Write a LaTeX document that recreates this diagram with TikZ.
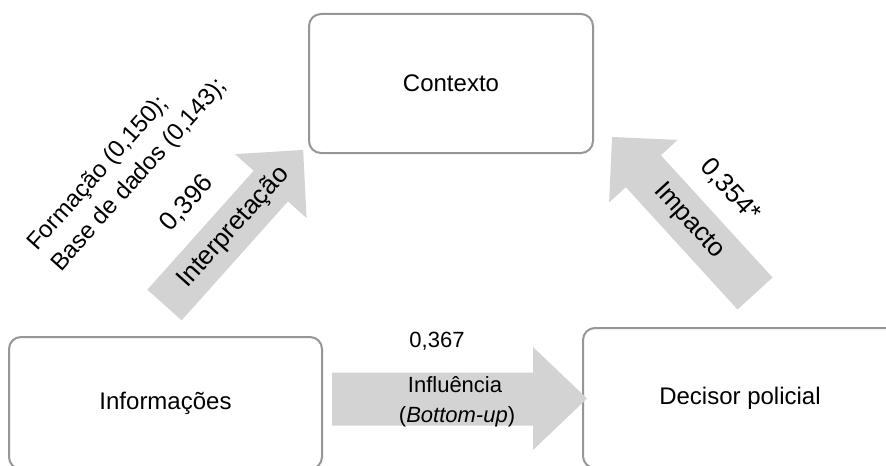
\documentclass[tikz,border=0pt]{standalone}
\usepackage{fontspec}
\setmainfont{Liberation Sans}
\definecolor{boxline}{RGB}{150,150,150}
\definecolor{arrowfill}{RGB}{211,211,211}
\begin{document}
\begin{tikzpicture}[x=0.5pt,y=0.5pt,
  every node/.style={font=\fontsize{12}{14}\selectfont, inner sep=0pt},
  stage/.style={draw=boxline, line width=1pt, rounded corners=6pt,
    rectangle, fill=white},
  blockarrow/.style={fill=arrowfill, draw=none},
  flowtext/.style={font=\fontsize{11}{13}\selectfont},
  slanttext/.style={font=\fontsize{13}{15}\selectfont}]
\useasboundingbox (0,0) rectangle (886,-465);
\clip (0,0) rectangle (886,-465);

% stages
\node[stage, minimum width=142pt, minimum height=69.5pt] (ctx) at (451,-83.5) {Contexto};
\node[stage, minimum width=156.5pt, minimum height=66pt] (info) at (165.5,-403) {Informações};
\node[stage, minimum width=157pt, minimum height=70pt] (dec) at (740,-398) {Decisor policial};

% Informações -> Decisor policial
\fill[blockarrow] (332,-372.5) -- (533,-372.5) -- (533,-347) -- (587,-398.5)
  -- (533,-450) -- (533,-425.5) -- (332,-425.5) -- cycle;
\node[flowtext] (w367) at (437,-341) {0,367};
\node[flowtext] (infl) at (455,-385) {Influência};
\node[flowtext] (bup) at (457,-417) {(\textit{Bottom-up})};

% Informações -> Contexto
\begin{scope}[shift={(164.5,-305)}, rotate=48.2]
  \fill[blockarrow] (0,23) -- (159.5,23) -- (159.5,48) -- (208,0)
    -- (159.5,-48) -- (159.5,-23) -- (0,-23) -- cycle;
  \node[slanttext, rotate=48.2] (interp) at (104,0) {Interpretação};
  \node[slanttext, rotate=48.2] (w396) at (91,51) {0,396};
  \node[rotate=48.2, align=left, font=\fontsize{12}{16}\selectfont] (covars) at (80,121)
    {Formação (0,150);\\Base de dados (0,143);};
\end{scope}

% Decisor policial -> Contexto
\begin{scope}[shift={(755,-293.5)}, rotate=132.4]
  \fill[blockarrow] (0,23.7) -- (165.6,23.7) -- (165.6,46.4) -- (212,0)
    -- (165.6,-46.4) -- (165.6,-23.7) -- (0,-23.7) -- cycle;
  \node[slanttext, rotate=-47.6] (imp) at (98,0) {Impacto};
  \node[slanttext, rotate=-47.6] (w354) at (93,-51) {0,354*};
\end{scope}
\end{tikzpicture}
\end{document}
